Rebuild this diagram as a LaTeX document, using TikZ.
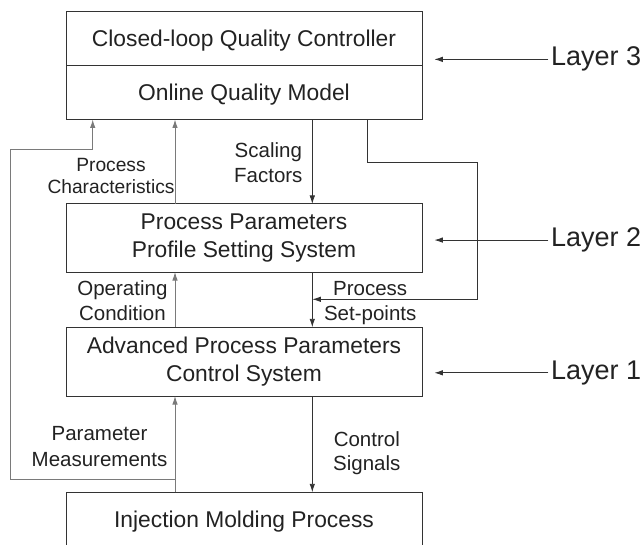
\documentclass[tikz,border=0pt]{standalone}
\usepackage{fontspec}
\setmainfont{Liberation Sans}
\usetikzlibrary{arrows.meta}
\definecolor{ink}{HTML}{222222}
\definecolor{linec}{HTML}{333333}
\definecolor{grayc}{HTML}{7A7A7A}
\newcommand{\twolines}[2]{\begin{tabular}[t]{@{}c@{}}#1\\#2\end{tabular}}
\begin{document}
\begin{tikzpicture}[x=1pt,y=-1pt,
  box/.style={draw=linec, line width=1pt, minimum width=356pt, inner sep=0pt, outer sep=0pt, text=ink, align=center, font=\fontsize{22.8}{28}\selectfont},
  arr/.style={draw=linec, line width=0.9pt, -{Latex[length=8.5pt,width=5.5pt]}},
  garr/.style={arr, draw=grayc},
  lbl/.style={anchor=base, inner sep=0pt, text=ink, font=\fontsize{20.5}{25}\selectfont},
  layer/.style={anchor=base west, inner sep=0pt, outer sep=0pt, text=ink, font=\fontsize{27}{32}\selectfont}]
\useasboundingbox (0,0) rectangle (644,545);

% boxes
\node[box, minimum height=54.3pt, text depth=1pt] (cqc) at (244,38.85) {Closed-loop Quality Controller};
\node[box, minimum height=53.5pt, text depth=1pt] (oqm) at (244,92.75) {Online Quality Model};
\node[box, minimum height=68pt] (pps) at (244,238) {Process Parameters\\Profile Setting System};
\node[box, minimum height=68.7pt] (apc) at (244,361.65) {Advanced Process Parameters\\Control System};
\node[box, draw=none, minimum height=54.2pt, text depth=1pt] (imp) at (244,519.4) {Injection Molding Process};
\draw[draw=linec, line width=1pt] (imp.south west) -- (imp.north west) -- (imp.north east) -- (imp.south east);

% helper coordinates
\coordinate (xa) at (92.7,0);
\coordinate (xb) at (175,0);
\coordinate (xc) at (312.3,0);
\coordinate (xd) at (367.7,0);
\coordinate (xt) at (434.3,0);
\coordinate (j1) at (175,479.3);
\coordinate (lc) at (10.7,149);
\coordinate (rc) at (477.3,162.3);
\coordinate (j2) at (312.3,299.3);

% layer labels
\node[layer] (L3) at (551,66) {Layer 3};
\node[layer] (L2) at (551,246.7) {Layer 2};
\node[layer] (L1) at (551,379.3) {Layer 1};
\draw[arr] ([xshift=-2.7pt]L3.west) -- (L3.west -| xt);
\draw[arr] ([xshift=-2.7pt]L2.west) -- (L2.west -| xt);
\draw[arr] ([xshift=-2.7pt]L1.west) -- (L1.west -| xt);

% connectors
\draw[garr] (imp.north -| xb) -- (apc.south -| xb);
\draw[garr] (j1) -| (lc) -| (oqm.south -| xa);
\draw[garr] (pps.north -| xb) -- (oqm.south -| xb);
\draw[arr] (oqm.south -| xc) -- (pps.north -| xc);
\draw[arr] (oqm.south -| xd) |- (rc) |- (j2);
\draw[arr] (pps.south -| xc) -- (apc.north -| xc);
\draw[garr] (apc.north -| xb) -- (pps.south -| xb);
\draw[arr] (apc.south -| xc) -- (imp.north -| xc);

% connector labels
\node[lbl, font=\fontsize{19.2}{21.5}\selectfont] (pcl) at (111,171.7) {\twolines{Process}{Characteristics}};
\node[lbl] (sfl) at (268.3,157.7) {\twolines{Scaling}{Factors}};
\node[lbl] (ocl) at (122.4,295.5) {\twolines{Operating}{Condition}};
\node[lbl] (spl) at (370.2,295.5) {\twolines{Process}{Set-points}};
\node[lbl, font=\fontsize{20.5}{26}\selectfont] (pml) at (99.5,440) {\twolines{Parameter}{Measurements}};
\node[lbl, font=\fontsize{20.5}{24.5}\selectfont] (csl) at (366.8,446) {\twolines{Control}{Signals}};
\end{tikzpicture}
\end{document}
